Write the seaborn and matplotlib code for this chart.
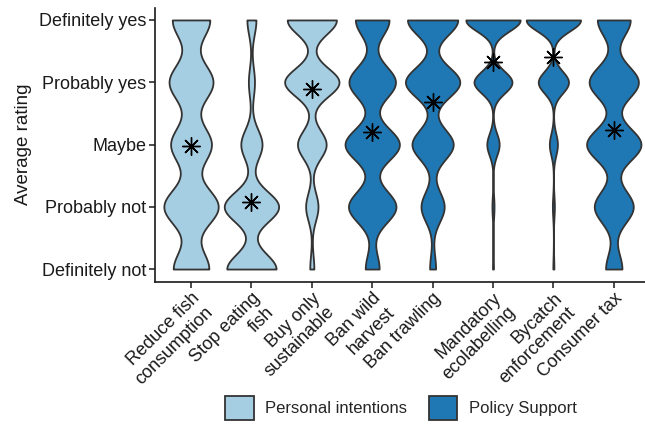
import numpy as np
import pandas as pd
import matplotlib
matplotlib.use("Agg")
import matplotlib.pyplot as plt
import seaborn as sns

# Rating scale (1 = Definitely not ... 5 = Definitely yes)
rating_labels = ["Definitely not", "Probably not", "Maybe", "Probably yes", "Definitely yes"]
rating_values = [1, 2, 3, 4, 5]

# Items shown on the x axis and the group each belongs to
items = ["Reduce fish\nconsumption", "Stop eating\nfish", "Buy only\nsustainable",
         "Ban wild\nharvest", "Ban trawling", "Mandatory\necolabelling",
         "Bycatch\nenforcement", "Consumer tax"]
groups = ["Personal intentions"] * 3 + ["Policy Support"] * 5

# Number of respondents choosing each rating (1..5) for each item
reduce_fish = [201, 307, 230, 248, 212]
stop_eating = [421, 464, 181, 52, 77]
buy_sustainable = [33, 100, 232, 440, 398]
ban_wild_harvest = [85, 291, 333, 285, 206]
ban_trawling = [41, 159, 283, 373, 345]
mandatory_ecolabel = [11, 23, 137, 422, 604]
bycatch_enforcement = [13, 25, 101, 378, 680]
consumer_tax = [102, 243, 339, 307, 205]

item_counts = [reduce_fish, stop_eating, buy_sustainable, ban_wild_harvest,
               ban_trawling, mandatory_ecolabel, bycatch_enforcement, consumer_tax]

palette = {"Personal intentions": "#a6cee3", "Policy Support": "#1f78b4"}

# Expand counts into one row per response
frames = []
for item, group, counts in zip(items, groups, item_counts):
    ratings = np.repeat(rating_values, counts)
    frames.append(pd.DataFrame({"item": item, "group": group, "rating": ratings}))
df = pd.concat(frames, ignore_index=True)

sns.set_theme(style="ticks")
plt.rcParams["font.family"] = ["Liberation Sans", "DejaVu Sans"]

fig = plt.figure(figsize=(6.45, 4.37), dpi=100)
ax = fig.add_axes([154.8 / 645, 1 - 281.5 / 437, (650 - 154.8) / 645, (281.5 - 7.5) / 437])

sns.violinplot(data=df, x="item", y="rating", hue="group", order=items,
               palette=palette, dodge=False, cut=0, density_norm="width",
               bw_method=0.215, width=0.9, inner=None, linewidth=1.3,
               linecolor="#333333", saturation=1, gridsize=300, ax=ax)

# Mean rating of each item as an asterisk with a dot in the centre
sns.pointplot(data=df, x="item", y="rating", order=items, estimator="mean",
              errorbar=None, color="black", linestyle="none", marker=(8, 2, 0),
              markersize=13, markeredgewidth=1.0, ax=ax)
sns.pointplot(data=df, x="item", y="rating", order=items, estimator="mean",
              errorbar=None, color="black", linestyle="none", marker="o",
              markersize=2.5, markeredgewidth=0, ax=ax)

ax.set_xlim(-0.6, 7.6)
ax.set_ylim(0.8, 5.2)
ax.set_yticks(rating_values)
ax.set_yticklabels(rating_labels, fontsize=13, color="#1a1a1a")
ax.set_xticks(range(len(items)))
ax.set_xticklabels(items, fontsize=13, color="#1a1a1a", rotation=45,
                   ha="right", va="top", rotation_mode="anchor", ma="right")
ax.set_xlabel("")
ax.set_ylabel("Average rating", fontsize=13.5, color="#1a1a1a", labelpad=5)

for side in ["top", "right"]:
    ax.spines[side].set_visible(False)
for side in ["left", "bottom"]:
    ax.spines[side].set_linewidth(1.2)
    ax.spines[side].set_color("#1a1a1a")
ax.tick_params(axis="both", length=4, width=1.1, color="#1a1a1a", pad=2)

sns.move_legend(ax, "center", bbox_to_anchor=(401 / 645, 0.066),
                bbox_transform=fig.transFigure, ncol=2, frameon=False, title=None,
                fontsize=12, handlelength=1.7, handleheight=1.9,
                handletextpad=0.7, columnspacing=1.3)

fig.savefig("out.png", dpi=100)
